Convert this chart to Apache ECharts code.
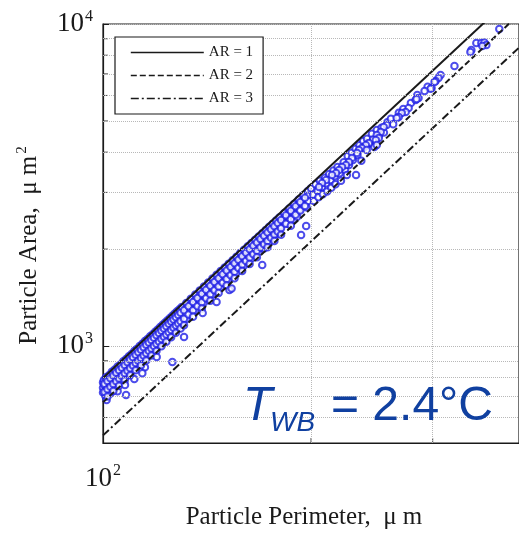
<!DOCTYPE html>
<html><head><meta charset="utf-8">
<script src="https://cdn.jsdelivr.net/npm/echarts@6/dist/echarts.min.js"></script>
<style>html,body{margin:0;padding:0;background:#fff}#c{width:519px;height:535px}</style>
</head><body><div id="c"></div>
<script>
const xGridValues = [200, 300];
const yGridValues = [600, 700, 800, 900, 2000, 3000, 4000, 5000, 6000, 7000, 8000, 9000];
const seriesNames = ['AR = 1', 'AR = 2', 'AR = 3'];
const ar1Line = [[100, 796], [400, 12732]];
const ar2Line = [[100, 669], [400, 10709]];
const ar3Line = [[100, 528], [400, 8443]];
const particles = [
[100,770],[100,742],[100,718],[100.3,785],[100.5,756],[100.8,700],[101,800],[101,790],[101,731],[101.2,680],[101.5,770],[102,812],[102,762],[102,740],[102.5,712],[103,832],[103,784],[103,756],[103.5,731],[104,845],[104,800],[104,772],[104.5,745],[105,864],[105,818],[105,786],[105,724],[105.5,765],[106,876],[106,838],[106,806],[106.5,780],[107,897],[107,852],[107,818],[107.5,796],[108,912],[108,866],[108,838],[108,705],[108.5,812],[109,930],[109,884],[109,850],[109.5,826],[110,945],[110,900],[110,868],[110.5,842],[111,966],[111,918],[111,886],[111,790],[111.5,858],[112,980],[112,935],[112,902],[112.5,872],[113,1000],[113,952],[113,918],[113.5,890],[114,1016],[114,968],[114,935],[114.5,905],[115,1036],[115,985],[115,952],[115,860],[115.5,922],[116,1052],[116,1002],[116,970],[116.5,940],[117,1072],[117,1020],[117,985],[117.5,955],[118,1088],[118,1038],[118,1002],[118.5,972],[119,1108],[119,1055],[119,1020],[119.5,985],[120,1126],[120,1072],[120,1036],[120,1000],[121,1146],[121,1090],[121,1052],[122,1164],[122,1108],[122,1072],[122,1032],[123,1184],[123,1128],[123,1088],[124,1202],[124,1146],[124,1106],[124,1068],[125,1222],[125,1165],[125,1125],[125,1080],[126,1241],[126,1184],[126,1145],[126,1105],[127,1262],[127,1205],[127,1162],[128,1282],[128,1222],[128,1180],[128,1140],[129,1302],[129,1242],[129,1198],[130,1322],[130,1262],[130,1218],[130,1175],
[100.5,764],[100.5,720],[101.5,779],[101.5,734],[101.5,697],[102.5,794],[102.5,748],[103.5,810],[103.5,763],[103.5,725],[104.5,826],[104.5,778],[105.5,841],[105.5,793],[105.5,753],[106.5,857],[106.5,808],[107.5,874],[107.5,823],[107.5,782],[108.5,890],[108.5,838],[109.5,906],[109.5,854],[109.5,811],[110.5,923],[110.5,870],[111.5,940],[111.5,886],[111.5,841],[112.5,957],[112.5,901],[113.5,974],[113.5,918],[113.5,871],[114.5,991],[114.5,934],[115.5,1009],[115.5,950],[115.5,902],[116.5,1026],[116.5,967],[117.5,1044],[117.5,983],[117.5,934],[118.5,1062],[118.5,1000],[119.5,1080],[119.5,1017],[119.5,966],[120.5,1098],[120.5,1034],[121.5,1116],[121.5,1051],[121.5,999],[122.5,1134],[122.5,1069],[123.5,1153],[123.5,1086],[123.5,1032],[124.5,1172],[124.5,1104],[125.5,1191],[125.5,1122],[125.5,1065],[126.5,1210],[126.5,1140],[127.5,1229],[127.5,1158],[127.5,1100],[128.5,1248],[128.5,1176],[129.5,1268],[129.5,1194],[129.5,1134],
[132,1360],[132,1310],[132,1262],[132,1212],[134,1402],[134,1350],[134,1298],[136,1445],[136,1392],[136,1340],[136,1290],[138,1488],[138,1432],[138,1378],[140,1532],[140,1475],[140,1420],[140,1365],[142,1575],[142,1515],[142,1458],[144,1620],[144,1560],[144,1500],[144,1445],[146,1665],[146,1602],[146,1540],[148,1710],[148,1645],[148,1585],[148,1520],[150,1755],[150,1690],[150,1630],[152,1800],[152,1735],[152,1672],[152,1610],[154,1848],[154,1780],[154,1715],[156,1895],[156,1828],[156,1760],[156,1690],[158,1945],[158,1875],[158,1805],[160,1992],[160,1920],[160,1850],[160,1780],[162,2040],[162,1968],[162,1895],[164,2090],[164,2015],[164,1942],[164,1870],[166,2140],[166,2062],[166,1988],[168,2190],[168,2112],[168,2035],[168,1960],[170,2240],[170,2160],[170,2080],[171,2010],[172,2292],[172,2210],[172,2128],[174,2345],[174,2260],[174,2178],[174,2100],[176,2398],[176,2312],[176,2228],[178,2452],[178,2365],[178,2280],[179,2230],[180,2505],[180,2420],[180,2335],[180,2250],[183,2590],[183,2500],[183,2410],[185,2400],[186,2675],[186,2585],[186,2490],[189,2762],[189,2668],[189,2570],[189,2470],[191,2520],[192,2850],[192,2752],[192,2652],[195,2940],[195,2840],[195,2735],[197,2700],[198,3030],[198,2928],[198,2820],
[131,1291],[131,1215],[131,1161],[133,1330],[133,1253],[135,1371],[135,1291],[135,1233],[137,1411],[137,1329],[139,1453],[139,1368],[139,1307],[141,1495],[141,1408],[143,1538],[143,1448],[143,1383],[145,1581],[145,1489],[147,1625],[147,1530],[147,1462],[149,1670],[149,1572],[151,1715],[151,1615],[151,1542],[153,1760],[153,1658],[155,1807],[155,1702],[155,1625],[157,1854],[157,1746],[159,1901],[159,1791],[159,1710],[161,1949],[161,1836],[163,1998],[163,1882],[163,1797],[165,2047],[165,1928],[167,2097],[167,1975],[167,1886],[169,2148],[169,2023],[171,2199],[171,2071],[173,2251],[173,2120],[173,2025],[175,2303],[175,2169],[177,2356],[177,2219],[177,2119],[179,2410],[179,2269],[181,2464],[181,2320],[181,2216],[184,2546],[184,2398],[187,2630],[187,2477],[187,2365],[190,2715],[190,2557],[193,2801],[193,2638],[196,2889],[196,2721],
[200,3090],[201.5,2950],[202,2820],[203,3180],[204.5,3030],[205,2900],[206,3260],[207.5,3120],[208,2960],[209.5,3330],[210.5,3200],[211,3020],[212.5,3420],[213.5,3280],[214,3100],[215.5,3510],[216.5,3370],[217,3180],[218.5,3600],[220,3440],[221,3260],[223,3720],[224,3530],[226,3890],[227,3650],[229,3980],[230,3780],[232,4100],[233.5,3920],[235,4200],[236.5,3760],[238,4330],[239,4150],[241,4400],[243,4250],[245,4560],[246,4380],[247,4150],[249,4690],[251,4530],[253,4760],[255,4600],[258,4950],[261,5080],[263,4880],[268,5300],[272,5450],[279,5680],[285,6020],[295,6380],
[374.6,9649],[347,8730],[352.8,8730],[356.4,8760],[358.8,8605],[354,8545],[341.3,8305],[340.2,8186],[322.6,7407],[308,6945],[305.9,6797],[302.9,6653],[301.9,6605],[298.9,6327],[297.9,6290],[292,6193],[286.2,5890],[283.4,5807],[284.3,5848],[276.9,5486],[274.2,5331],[270.6,5293],[267.9,5143],[266.1,5107],[257.4,4857],[254.8,4788],[252.3,4620],[249,4522],[250.7,4426],[248.2,4364],[249,4211],[242.5,4271],[240.1,4211],[236.9,4121],[234.6,4063],[233.1,3977],[240.8,4063],[229.2,3836],[227,3727],[224.7,3648],[221.8,3596],[219.6,3520],[217.4,3445],[214.5,3397],[225.4,3397],[210.3,3277],[207.5,3208],[205.4,3117],
[119.6,925],[126,892],[131,1067],[114,824],[107.6,757],[139.4,1266],[146,1370],[170,1785],[193.5,2213],[196.8,2361],[152.4,1493],[153.5,1510],[232.4,3397]
];

const serif = '"Liberation Serif", "Times New Roman", serif';
const sans = '"Liberation Sans", Arial, sans-serif';
const ink = '#1a1a1a';
const blue = '#2020e6';
const twbColor = '#1040a0';

function powLabel(v) {
  const e = Math.log10(v);
  if (Math.abs(e - Math.round(e)) > 1e-6) return '';
  return '{b|10}{s|' + Math.round(e) + '}';
}
const labelRich = {
  b: { fontFamily: serif, fontSize: 27, color: ink },
  s: { fontFamily: serif, fontSize: 16, color: ink, verticalAlign: 'top', padding: [0, 0, 15, 1] }
};

const chart = echarts.init(document.getElementById('c'), null, { renderer: 'canvas' });
chart.setOption({
  animation: false,
  backgroundColor: '#fff',
  grid: { left: 103, top: 24, width: 418, height: 419, show: true, borderColor: ink, borderWidth: 1.2, backgroundColor: 'transparent' },
  legend: {
    data: seriesNames,
    orient: 'vertical', left: 115, top: 37,
    itemWidth: 73, itemHeight: 14, itemGap: 8,
    padding: [8, 10, 8, 15],
    borderColor: ink, borderWidth: 1.2, backgroundColor: '#fff',
    textStyle: { fontFamily: serif, fontSize: 15, color: ink },
    lineStyle: { width: 1.6 },
    z: 10
  },
  xAxis: {
    type: 'log', logBase: 10, min: 100, max: 400,
    axisLine: { lineStyle: { color: ink, width: 1.2 } },
    axisTick: { inside: true, length: 6, lineStyle: { color: ink } },
    splitLine: { show: false },
    axisLabel: { formatter: powLabel, rich: labelRich, margin: 20, showMaxLabel: false },
    name: 'Particle Perimeter,  \u03bc m', nameLocation: 'middle', nameGap: 62,
    nameTextStyle: { fontFamily: serif, fontSize: 25, color: ink, padding: [0, 14, 0, 0] }
  },
  yAxis: {
    type: 'log', logBase: 10, min: 500, max: 10000,
    axisLine: { lineStyle: { color: ink, width: 1.2 } },
    axisTick: { inside: true, length: 6, lineStyle: { color: ink } },
    splitLine: { show: true, lineStyle: { type: 'dotted', color: '#b8b8b8' } },
    axisLabel: { formatter: powLabel, rich: labelRich, margin: 10, showMinLabel: false },
    name: '{a|Particle Area,  \u03bc m}{s|2}', nameLocation: 'middle', nameGap: 60,
    nameTextStyle: { padding: [0, 24, 0, 0], rich: {
      a: { fontFamily: serif, fontSize: 25, color: ink },
      s: { fontFamily: serif, fontSize: 15, color: ink, verticalAlign: 'top', padding: [0, 0, 13, 2] }
    } }
  },
  series: [
    {
      name: 'grid', type: 'scatter', data: yGridValues.map(v => [100, v]),
      symbol: 'rect', symbolSize: [5, 1], symbolOffset: [2.5, 0], clip: false, silent: true,
      itemStyle: { color: ink },
      markLine: {
        silent: true, symbol: 'none', label: { show: false },
        lineStyle: { type: 'dotted', color: '#b8b8b8', width: 1 },
        data: [...xGridValues.map(v => ({ xAxis: v })), ...yGridValues.map(v => ({ yAxis: v }))]
      },
      z: 1
    },
    {
      name: 'xticks', type: 'scatter', data: xGridValues.map(v => [v, 500]),
      symbol: 'rect', symbolSize: [1, 5], symbolOffset: [0, -2.5], clip: false, silent: true,
      itemStyle: { color: ink }, z: 1
    },
    {
      name: 'particles', type: 'scatter', data: particles,
      symbol: 'emptyCircle', symbolSize: 6.5,
      itemStyle: { color: blue, borderColor: blue, borderWidth: 1.4 },
      z: 3
    },
    { name: seriesNames[0], type: 'line', data: ar1Line, showSymbol: false, symbol: 'none',
      lineStyle: { color: ink, width: 2, type: 'solid' }, itemStyle: { color: ink, opacity: 0 }, z: 4 },
    { name: seriesNames[1], type: 'line', data: ar2Line, showSymbol: false, symbol: 'none',
      lineStyle: { color: ink, width: 2, type: [6, 3] }, itemStyle: { color: ink, opacity: 0 }, z: 4 },
    { name: seriesNames[2], type: 'line', data: ar3Line, showSymbol: false, symbol: 'none',
      lineStyle: { color: ink, width: 2, type: [8, 3, 2, 3] }, itemStyle: { color: ink, opacity: 0 }, z: 4 }
  ],
  graphic: [
    { type: 'text', left: 243, top: 383, z: 20, style: { text: 'T', font: 'italic 48px ' + sans, fill: twbColor } },
    { type: 'text', left: 270, top: 409, z: 20, style: { text: 'WB', font: 'italic 28px ' + sans, fill: twbColor } },
    { type: 'text', left: 331, top: 383, z: 20, style: { text: '= 2.4\u00b0C', font: '48px ' + sans, fill: twbColor } }
  ]
});
</script></body></html>
